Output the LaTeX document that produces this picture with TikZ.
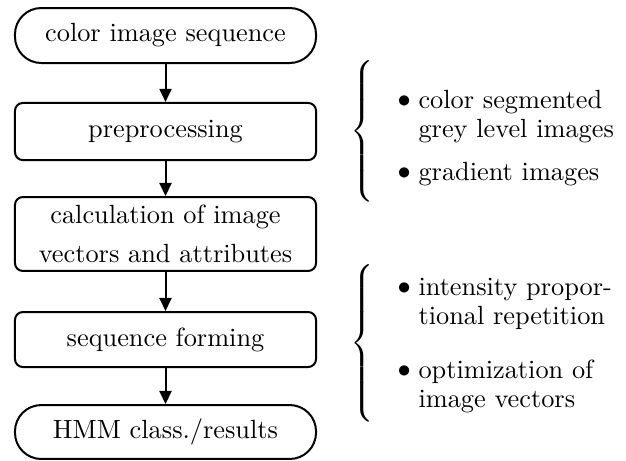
\documentclass[tikz,border=0pt]{standalone}
\usetikzlibrary{arrows.meta}
\begin{document}
\begin{tikzpicture}[x=0.38pt,y=-0.38pt,
  stage/.style={draw,line width=0.76pt,rounded corners=3pt,minimum width=114.4pt,inner sep=0pt,align=center},
  terminal/.style={stage,rounded corners=10pt},
  flow/.style={line width=0.76pt,-{Triangle[length=5pt,width=4.6pt]}},
  item/.style={anchor=base west,inner sep=0pt,align=left,font=\fontsize{10}{11}\selectfont},
  dot/.style={anchor=base west,inner sep=0pt}]
\useasboundingbox (0,0) rectangle (626,460);
% main processing chain
\node[terminal,minimum height=20.9pt] (seq)  at (165.5,35.5) {color image sequence};
\node[stage,minimum height=21.7pt]    (pre)  at (165.5,131.5) {preprocessing};
\node[stage,minimum height=28.1pt]    (calc) at (165.5,234) {calculation of image\\[3pt]vectors and attributes};
\node[stage,minimum height=20.9pt]    (form) at (165.5,339.5) {sequence forming};
\node[terminal,minimum height=20.5pt] (hmm)  at (165.5,432) {HMM class./results};
\draw[flow] (seq) -- (pre);
\draw[flow] (pre) -- (calc);
\draw[flow] (calc) -- (form);
\draw[flow] (form) -- (hmm);
% annotations for preprocessing (a multi-line item sits on its last baseline)
\node[inner sep=0pt] (br1) at (364,131.5) {$\delimitershortfall=0pt\delimiterfactor=1000\left\{\vrule height 22pt depth 22pt width 0pt\right.$};
\node[dot] (d1) at (397,107) {$\bullet$};
\node[item] (t1) at (418,137) {color segmented\\grey level images};
\node[dot] (d2) at (397,179) {$\bullet$};
\node[item] (t2) at (418,180) {gradient images};
% annotations for sequence forming
\node[inner sep=0pt] (br2) at (364,343.5) {$\delimitershortfall=0pt\delimiterfactor=1000\left\{\vrule height 25pt depth 25pt width 0pt\right.$};
\node[dot] (d3) at (397,294) {$\bullet$};
\node[item] (t3) at (418,324) {intensity propor-\\tional repetition};
\node[dot] (d4) at (397,377) {$\bullet$};
\node[item] (t4) at (418,407) {optimization of\\image vectors};
\end{tikzpicture}
\end{document}
